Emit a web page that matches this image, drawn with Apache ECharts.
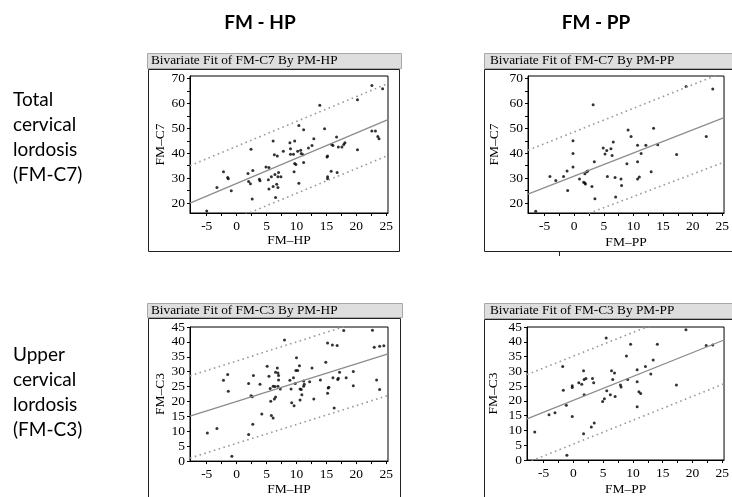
<!DOCTYPE html>
<html>
<head>
<meta charset="utf-8">
<script src="https://cdn.jsdelivr.net/npm/echarts@6/dist/echarts.min.js"></script>
<style>
html,body{margin:0;padding:0;background:#fff;}
#c{width:732px;height:497px;}
</style>
</head>
<body>
<div id="c"></div>
<script>
// ---------- data ----------
var xLabelVals = [-5, 0, 5, 10, 15, 20, 25];
var xTickVals = [-5, -2.5, 0, 2.5, 5, 7.5, 10, 12.5, 15, 17.5, 20, 22.5, 25];
var yLabelsC7 = [20, 30, 40, 50, 60, 70];
var yTicksC7 = [20, 25, 30, 35, 40, 45, 50, 55, 60, 65, 70];
var yLabelsC3 = [0, 5, 10, 15, 20, 25, 30, 35, 40, 45];

// FM-C7 vs FM-HP
var c7hp = [
 [-5.0,16.8],[-3.3,26.2],[-2.2,32.6],[-1.5,30.3],[-1.4,29.8],[-0.9,24.9],
 [1.9,31.9],[2.0,28.6],[2.3,27.7],[2.4,41.6],[2.7,33.1],[2.6,21.6],
 [3.8,29.5],[3.9,28.9],[4.9,34.5],[5.4,34.3],[5.3,29.3],[5.4,25.6],
 [5.8,30.6],[6.1,26.6],[6.1,44.9],[6.3,39.4],[6.4,31.5],[6.5,22.2],
 [6.7,27.5],[6.8,38.9],[6.9,30.6],[6.9,26.2],[7.0,32.3],[7.4,30.6],
 [7.8,40.8],[8.9,44.2],[9.0,41.8],[9.0,39.6],[9.5,39.6],[9.7,44.9],
 [9.7,35.9],[9.9,35.5],[9.6,32.6],[10.2,40.8],[10.4,51.1],[10.4,27.9],
 [10.7,41.2],[10.8,39.9],[11.1,39.4],[11.2,49.4],[11.2,36.3],[12.0,42.1],
 [12.6,43.1],[12.9,45.8],[13.9,59.3],[14.7,49.8],[15.1,38.5],[15.2,38.9],
 [15.2,30.6],[15.2,29.7],[15.8,32.8],[15.9,43.5],[16.1,43.1],[16.7,46.5],
 [16.8,32.3],[17.0,42.5],[17.6,42.5],[17.9,43.5],[18.1,44.2],
 [20.2,61.5],[20.2,41.4],[22.6,67.2],[24.4,65.9],[22.6,48.9],[23.2,48.9],
 [23.6,46.7],[23.8,45.8]
];
var fitC7HP = [[-7.8,20.0],[25.3,53.5]];
var upC7HP  = [[-7.8,35.0],[25.3,68.0]];
var loC7HP  = [[-7.8,6.2],[25.3,39.1]];

// FM-C7 vs FM-PP
var c7pp = [
 [-6.5,16.7],[-4.1,30.7],[-3.1,29.0],[-1.8,30.7],[-1.2,32.9],[-1.1,25.0],
 [-0.2,45.0],[-0.2,39.9],[-0.2,34.5],[0.9,29.6],[1.6,28.3],[1.8,31.8],
 [1.8,28.0],[1.9,27.6],[2.1,32.6],[2.3,32.9],[3.0,26.6],[3.2,59.5],
 [3.4,36.6],[3.5,21.7],[4.9,42.1],[5.2,39.7],[5.5,41.1],[5.6,30.7],
 [6.2,41.8],[6.4,39.1],[6.6,44.5],[6.9,30.3],[7.0,22.4],[7.9,29.6],
 [8.0,27.0],[8.9,35.8],[9.1,49.3],[9.6,46.7],[10.7,43.2],[10.7,36.6],
 [10.7,29.6],[11.0,30.5],[11.3,39.9],[12.1,43.2],[13.0,32.6],[13.4,50.0],
 [14.1,43.4],[17.3,39.5],[18.9,66.8],[22.3,46.7],[23.4,65.8]
];
var fitC7PP = [[-7.8,23.6],[25.3,54.3]];
var upC7PP  = [[-7.8,41.2],[25.3,72.5]];
var loC7PP  = [[-7.8,6.6],[25.3,36.4]];

// FM-C3 vs FM-HP
var c3hp = [
 [-4.9,9.4],[-3.3,10.9],[-2.2,27.1],[-1.5,29.1],[-1.4,23.4],[-0.8,1.6],
 [2.0,26.0],[2.0,8.9],[2.4,21.9],[2.6,21.6],[2.7,12.4],[2.8,28.7],
 [3.9,25.8],[4.2,15.8],[5.1,31.8],[5.4,28.5],[5.6,24.4],[5.7,20.1],
 [5.8,15.3],[6.1,25.1],[6.1,14.5],[6.3,20.8],[6.4,25.0],[6.5,21.5],
 [6.5,29.8],[6.8,31.2],[6.9,25.1],[6.9,29.6],[7.0,28.7],[7.0,27.2],
 [7.3,24.2],[8.0,40.6],[8.9,27.1],[9.1,24.2],[9.2,19.6],[9.5,28.0],
 [9.6,18.6],[9.8,26.0],[9.9,30.4],[10.0,34.7],[10.2,30.4],[10.5,32.0],
 [10.6,24.2],[10.6,20.5],[10.8,24.0],[10.9,22.3],[11.2,26.9],[11.2,25.1],
 [11.3,25.8],[12.2,26.6],[12.6,31.2],[12.9,20.8],[14.0,27.2],[14.9,33.2],
 [15.2,39.6],[15.2,22.8],[15.3,24.5],[15.4,24.8],[16.0,39.0],[16.1,28.0],
 [16.3,17.8],[16.8,38.8],[16.9,27.4],[17.0,27.8],[17.2,29.8],[17.9,43.8],
 [18.3,28.0],[19.5,30.1],[19.5,25.3],[22.7,43.9],[23.0,38.2],[23.9,38.5],
 [24.6,38.7],[23.4,27.2],[23.9,24.0]
];
var fitC3HP = [[-7.8,15.1],[25.3,36.0]];
var upC3HP  = [[-7.8,28.6],[25.3,49.8]];
var loC3HP  = [[-7.8,1.0],[25.3,22.0]];

// FM-C3 vs FM-PP
var c3pp = [
 [-6.5,9.5],[-4.1,15.3],[-3.1,16.0],[-1.8,31.6],[-1.7,23.6],[-1.2,18.5],
 [-1.1,1.6],[-0.2,25.1],[-0.2,24.5],[-0.2,14.7],[0.9,26.1],[1.4,25.6],
 [1.7,30.2],[1.8,27.2],[1.8,22.1],[2.1,27.6],[1.7,8.9],[3.0,11.2],
 [3.2,27.6],[3.4,26.1],[3.5,12.5],[4.9,19.8],[5.2,20.7],[5.5,41.3],
 [5.6,23.4],[6.2,22.1],[6.4,30.2],[6.6,27.2],[6.9,29.4],[7.0,21.5],
 [7.9,25.4],[8.0,24.7],[8.9,35.2],[9.1,27.2],[9.6,39.2],[10.7,30.5],
 [10.7,26.5],[10.7,18.0],[11.0,23.1],[11.3,22.5],[12.1,31.6],[13.0,29.1],
 [13.4,33.8],[14.1,39.2],[17.3,25.4],[18.9,44.1],[22.3,38.7],[23.4,38.9]
];
var fitC3PP = [[-7.8,13.9],[25.3,40.6]];
var upC3PP  = [[-7.8,28.9],[25.3,55.4]];
var loC3PP  = [[-7.8,-0.9],[25.3,25.8]];

// ---------- chart ----------
var SERIF = '"Liberation Serif","Times New Roman",serif';
var SANS = 'Lato, "Open Sans", sans-serif';
var chart = echarts.init(document.getElementById('c'), null, {renderer: 'canvas'});

var grids = [
  {left: 190, top: 76, width: 198, height: 137},
  {left: 528, top: 76, width: 197, height: 137},
  {left: 190, top: 327, width: 198, height: 138},
  {left: 527, top: 327, width: 198, height: 139}
].map(function (g) {
  return Object.assign({show: true, borderColor: '#000', borderWidth: 1, backgroundColor: 'transparent'}, g);
});

function xAx(gi, name, gap) {
  return {
    type: 'value', gridIndex: gi, min: -7.8, max: 25.3,
    name: name, nameLocation: 'middle', nameGap: gap,
    nameTextStyle: {fontFamily: SERIF, fontSize: 13.5, color: '#000'},
    axisLine: {show: true, onZero: false, lineStyle: {color: '#000', width: 1}},
    axisTick: {show: true, length: 3, customValues: xTickVals, lineStyle: {color: '#000', width: 1}},
    axisLabel: {customValues: xLabelVals, margin: 6, fontFamily: SERIF, fontSize: 13.5, color: '#000'},
    splitLine: {show: false}
  };
}
function yAx(gi, name, gap, min, max, labels, ticks) {
  return {
    type: 'value', gridIndex: gi, min: min, max: max,
    name: name, nameLocation: 'middle', nameGap: gap, nameRotate: 90,
    nameTextStyle: {fontFamily: SERIF, fontSize: 13.5, color: '#000'},
    axisLine: {show: true, onZero: false, lineStyle: {color: '#000', width: 1}},
    axisTick: {show: true, length: 3, customValues: ticks, lineStyle: {color: '#000', width: 1}},
    axisLabel: {customValues: labels, margin: 5, fontFamily: SERIF, fontSize: 13.5, color: '#000'},
    splitLine: {show: false}
  };
}

function panelSeries(gi, pts, fit, up, lo) {
  var base = {xAxisIndex: gi, yAxisIndex: gi};
  return [
    Object.assign({type: 'line', data: up, showSymbol: false, silent: true, clip: true,
      lineStyle: {color: '#9a9a9a', width: 1.6, type: [1.6, 3.4]}}, base),
    Object.assign({type: 'line', data: lo, showSymbol: false, silent: true, clip: true,
      lineStyle: {color: '#9a9a9a', width: 1.6, type: [1.6, 3.4]}}, base),
    Object.assign({type: 'line', data: fit, showSymbol: false, silent: true, clip: true,
      lineStyle: {color: '#8c8c8c', width: 1.3}}, base),
    Object.assign({type: 'scatter', data: pts, symbol: 'circle', symbolSize: 3, silent: true,
      itemStyle: {color: '#000'}}, base)
  ];
}

function titleBar(x1, x2, y1, y2, label, tx) {
  return [
    {type: 'rect', shape: {x: x1 + 0.5, y: y1 + 0.5, width: x2 - x1, height: y2 - y1},
      style: {fill: '#dedede', stroke: '#a8a8a8', lineWidth: 1}},
    {type: 'text', x: tx, y: (y1 + y2) / 2 + 0.5,
      style: {text: label, font: '13.3px ' + SERIF, fill: '#000', verticalAlign: 'middle', align: 'left'}}
  ];
}
function ln(x1, y1, x2, y2) {
  return {type: 'line', shape: {x1: x1, y1: y1, x2: x2, y2: y2},
    style: {stroke: '#222', lineWidth: 1}};
}

var graphics = [].concat(
  [
    {type: 'text', x: 260, y: 23, style: {text: 'FM - HP', font: 'bold 19px ' + SANS, fill: '#000', align: 'center', verticalAlign: 'middle'}},
    {type: 'text', x: 596, y: 23, style: {text: 'FM - PP', font: 'bold 19px ' + SANS, fill: '#000', align: 'center', verticalAlign: 'middle'}},
    {type: 'text', x: 13, y: 87, style: {text: 'Total\ncervical\nlordosis\n(FM-C7)', font: '19px ' + SANS, lineHeight: 25, fill: '#000', align: 'left', verticalAlign: 'top'}},
    {type: 'text', x: 13, y: 342, style: {text: 'Upper\ncervical\nlordosis\n(FM-C3)', font: '19px ' + SANS, lineHeight: 25, fill: '#000', align: 'left', verticalAlign: 'top'}}
  ],
  titleBar(147, 401, 53, 68, 'Bivariate Fit of FM-C7 By PM-HP', 151),
  titleBar(484, 740, 53, 68, 'Bivariate Fit of FM-C7 By PM-PP', 490),
  titleBar(147, 402, 303, 317, 'Bivariate Fit of FM-C3 By PM-HP', 151),
  titleBar(484, 740, 303, 318, 'Bivariate Fit of FM-C3 By PM-PP', 490),
  [
    // panel 1 frame
    ln(148.5, 69.5, 399.5, 69.5), ln(148.5, 69.5, 148.5, 251.5), ln(399.5, 69.5, 399.5, 251.5), ln(148.5, 251.5, 399.5, 251.5),
    // panel 2 frame
    ln(484.5, 69.5, 732, 69.5), ln(484.5, 69.5, 484.5, 251.5), ln(484.5, 251.5, 732, 251.5), ln(559.5, 251.5, 559.5, 256),
    // panel 3 frame
    ln(148.5, 318.5, 400.5, 318.5), ln(148.5, 318.5, 148.5, 497), ln(400.5, 318.5, 400.5, 497),
    // panel 4 frame
    ln(484.5, 319.5, 732, 319.5), ln(484.5, 319.5, 484.5, 497)
  ]
);

var option = {
  backgroundColor: '#fff',
  animation: false,
  grid: grids,
  xAxis: [xAx(0, 'FM–HP', 19), xAx(1, 'FM–PP', 22), xAx(2, 'FM–HP', 18), xAx(3, 'FM–PP', 22)],
  yAxis: [
    yAx(0, 'FM–C7', 21, 16, 71, yLabelsC7, yTicksC7),
    yAx(1, 'FM–C7', 27, 16, 71, yLabelsC7, yTicksC7),
    yAx(2, 'FM–C3', 21, 0, 45, yLabelsC3, yLabelsC3),
    yAx(3, 'FM–C3', 27, 0, 45, yLabelsC3, yLabelsC3)
  ],
  series: [].concat(
    panelSeries(0, c7hp, fitC7HP, upC7HP, loC7HP),
    panelSeries(1, c7pp, fitC7PP, upC7PP, loC7PP),
    panelSeries(2, c3hp, fitC3HP, upC3HP, loC3HP),
    panelSeries(3, c3pp, fitC3PP, upC3PP, loC3PP)
  ),
  graphic: graphics
};
chart.setOption(option);
</script>
</body>
</html>
